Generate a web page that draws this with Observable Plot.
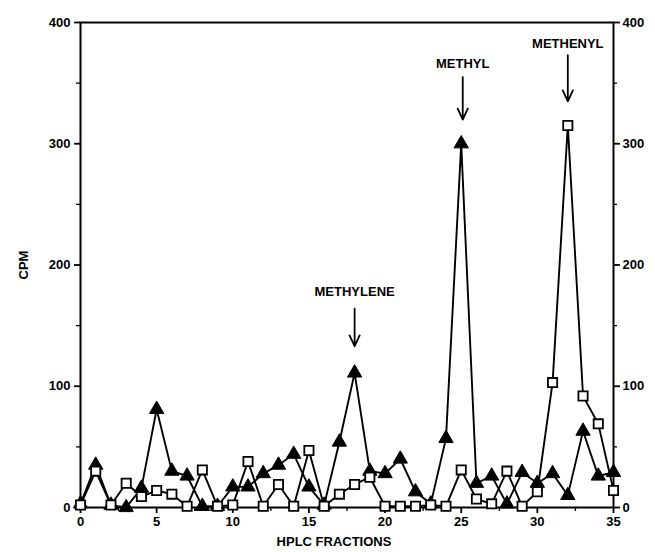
<!DOCTYPE html>
<html>
<head>
<meta charset="utf-8">
<script src="https://cdn.jsdelivr.net/npm/d3@7"></script>
<script src="https://cdn.jsdelivr.net/npm/@observablehq/plot@0.6"></script>
<style>
  html, body { margin: 0; padding: 0; background: #fff; }
  svg { font-family: "Liberation Sans", Arial, sans-serif; }
</style>
</head>
<body>
<div id="chart"></div>
<script>
// HPLC fractions 0..35
const fractions = d3.range(0, 36);
// Filled triangles series (CPM)
const triangleCPM = [3, 35, 2, 0, 16, 81, 30, 26, 1, 1, 17, 17, 28, 35, 44, 17, 2, 54, 111, 30, 28, 40, 13, 3, 57, 300, 20, 26, 3, 29, 20, 28, 10, 63, 26, 29];
// Open squares series (CPM)
const squareCPM = [2, 30, 2, 20, 9, 14, 11, 1, 31, 1, 2, 38, 1, 19, 1, 47, 1, 11, 19, 25, 1, 1, 1, 2, 1, 31, 7, 3, 30, 1, 13, 103, 315, 92, 69, 14];
// Peak annotations
const labelNames = ["METHYLENE", "METHYL", "METHENYL"];
const labelX = [18, 25.1, 32];
const labelY = [178, 366, 382];
const arrowY1 = [164, 355, 373];
const arrowY2 = [133, 320, 335];
// Axis ticks and titles
const yTicks = [0, 100, 200, 300, 400];
const yMinorTicks = [50, 150, 250, 350];
const xTicks = [0, 5, 10, 15, 20, 25, 30, 35];
const xMinorTicks = [2.5, 7.5, 12.5, 17.5, 22.5, 27.5, 32.5];
const xTitle = "HPLC FRACTIONS";
const yTitle = "CPM";

const tri = fractions.map((f, i) => ({x: f, y: triangleCPM[i]}));
const sq = fractions.map((f, i) => ({x: f, y: squareCPM[i]}));
const notes = labelNames.map((n, i) => ({name: n, x: labelX[i], y: labelY[i], y1: arrowY1[i], y2: arrowY2[i]}));

const tickText = {fontWeight: "bold", fontSize: 13, letterSpacing: 1.2};

const chart = Plot.plot({
  width: 655,
  height: 552,
  marginLeft: 80,
  marginRight: 42,
  marginTop: 22,
  marginBottom: 45,
  style: {fontFamily: "'Liberation Sans', Arial, sans-serif", fontSize: "13px", fontWeight: "bold", color: "#000", background: "#fff"},
  x: {domain: [0, 35]},
  y: {domain: [0, 400]},
  marks: [
    Plot.frame({stroke: "#000", strokeWidth: 2}),
    // left axis
    Plot.axisY({anchor: "left", ticks: yTicks, tickSize: 6, tickPadding: 4, strokeWidth: 1.8,
      label: yTitle, labelAnchor: "center", labelOffset: 62, labelArrow: "none", ...tickText}),
    Plot.axisY({anchor: "left", ticks: yMinorTicks, tickSize: 4, tickFormat: () => "", label: null, strokeWidth: 1.3}),
    // right axis
    Plot.axisY({anchor: "right", ticks: yTicks, tickSize: 6, tickPadding: 3, strokeWidth: 1.8, label: null, ...tickText}),
    Plot.axisY({anchor: "right", ticks: yMinorTicks, tickSize: 3, tickFormat: () => "", label: null, strokeWidth: 1.3}),
    // bottom axis
    Plot.axisX({anchor: "bottom", ticks: xTicks, tickSize: 6, tickPadding: 3, strokeWidth: 1.8, label: null, ...tickText}),
    Plot.axisX({anchor: "bottom", ticks: xMinorTicks, tickSize: 4, tickFormat: () => "", label: null, strokeWidth: 1.3}),
    Plot.text([xTitle], {frameAnchor: "bottom", dx: -13, dy: 34, text: d => d, fontWeight: "bold", fontSize: 13, letterSpacing: 1.6, fill: "#000", lineAnchor: "middle"}),
    // lines
    Plot.line(sq, {x: "x", y: "y", stroke: "#000", strokeWidth: 1.9}),
    Plot.line(tri, {x: "x", y: "y", stroke: "#000", strokeWidth: 1.9}),
    // markers
    Plot.dot(tri, {x: "x", y: "y", symbol: "triangle", r: 5.3, fill: "#000", stroke: "#000", strokeWidth: 1}),
    Plot.dot(sq, {x: "x", y: "y", symbol: "square", r: 5.2, fill: "#fff", stroke: "#000", strokeWidth: 1.8}),
    // annotations
    Plot.text(notes, {x: "x", y: "y", text: "name", fontWeight: "bold", fontSize: 13, fill: "#000", textAnchor: "middle", lineAnchor: "middle", letterSpacing: 1.8}),
    Plot.arrow(notes, {x1: "x", y1: "y1", x2: "x", y2: "y2", stroke: "#000", strokeWidth: 1.8, headLength: 10, headAngle: 50})
  ]
});

document.getElementById("chart").appendChild(chart);
</script>
</body>
</html>
